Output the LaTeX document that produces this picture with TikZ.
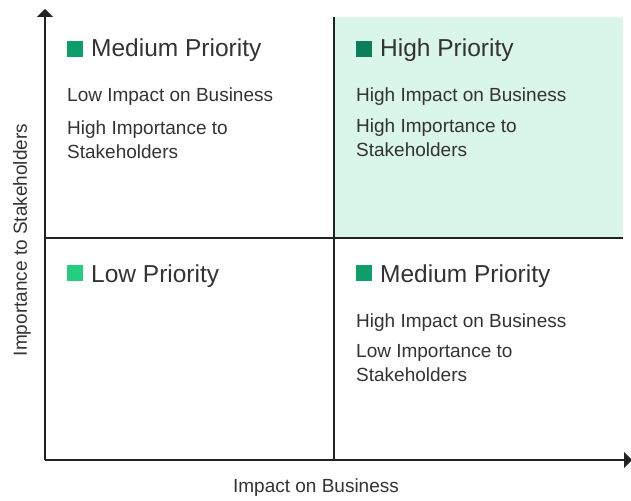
\documentclass[tikz,border=0pt]{standalone}
\usepackage{fontspec}
\setmainfont{Liberation Sans}
\usetikzlibrary{arrows.meta,positioning}
\definecolor{inkgray}{HTML}{333333}
\definecolor{axisgray}{HTML}{222222}
\definecolor{mintbg}{HTML}{DAF5E9}
\definecolor{lowgreen}{HTML}{23CE7D}
\definecolor{medgreen}{HTML}{0E9E6A}
\definecolor{highgreen}{HTML}{0B7E5A}
\begin{document}
\begin{tikzpicture}[x=1pt,y=-1pt,
                    axis/.style={draw=axisgray,line width=1.3pt,-{Triangle[length=8pt,width=16pt]}},
                    divider/.style={draw=axisgray,line width=1.1pt},
                    swatch/.style={minimum size=16pt,inner sep=0pt,outer sep=0pt},
                    heading/.style={anchor=base west,inner sep=0pt,text=inkgray,font=\fontsize{24.5}{28}\selectfont},
                    detail/.style={anchor=base west,inner sep=0pt,text=inkgray,align=left,font=\fontsize{19}{24}\selectfont},
                    axislabel/.style={inner sep=0pt,text=inkgray,font=\fontsize{19}{22}\selectfont}]
    \useasboundingbox (0,0) rectangle (631,500);
    % shaded high priority quadrant
    \fill[mintbg] (335,17) rectangle (623,238);
    % axes and dividers
    \coordinate (origin) at (45,460);
    \coordinate (ytop) at (45,9);
    \coordinate (xend) at (632,460);
    \coordinate (vtop) at (334,17);
    \coordinate (vbot) at (334,460);
    \coordinate (hleft) at (45,238);
    \coordinate (hright) at (623,238);
    \draw[divider] (vtop) -- (vbot);
    \draw[divider] (hleft) -- (hright);
    \draw[axis] (origin) -- (ytop);
    \draw[axis] (origin) -- (xend);
    % top left
    \node[swatch,fill=medgreen] (sqTL) at (75,49) {};
    \node[heading] (hdTL) at (91,57) {Medium Priority};
    \node[detail] (imTL) at (67,102) {Low Impact on Business};
    \node[detail] (stTL) at (67,158) {High Importance to\\Stakeholders};
    % top right
    \node[swatch,fill=highgreen] (sqTR) at (364,49) {};
    \node[heading] (hdTR) at (380,57) {High Priority};
    \node[detail] (imTR) at (356,102) {High Impact on Business};
    \node[detail] (stTR) at (356,156) {High Importance to\\Stakeholders};
    % bottom left
    \node[swatch,fill=lowgreen] (sqBL) at (75,273) {};
    \node[heading] (hdBL) at (91,282) {Low Priority};
    % bottom right
    \node[swatch,fill=medgreen] (sqBR) at (364,273) {};
    \node[heading] (hdBR) at (380,282) {Medium Priority};
    \node[detail] (imBR) at (356,327) {High Impact on Business};
    \node[detail] (stBR) at (356,381) {Low Importance to\\Stakeholders};
    % axis labels
    \node[axislabel] (xlabel) at (316,488) {Impact on Business};
    \node[axislabel,rotate=90] (ylabel) at (22,240) {Importance to Stakeholders};
\end{tikzpicture}
\end{document}
